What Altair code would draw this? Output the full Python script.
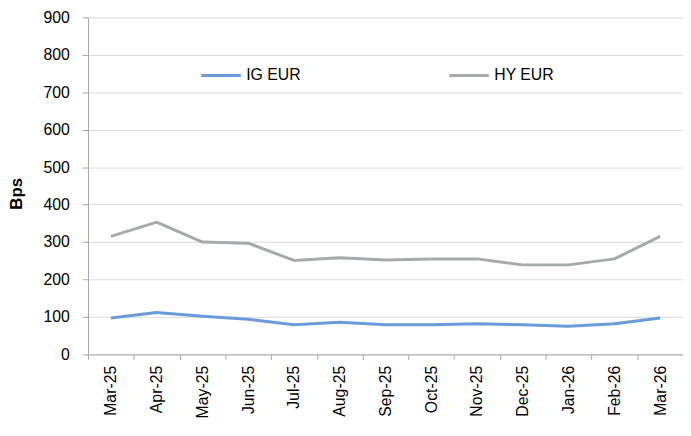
import altair as alt
import pandas as pd

months = ["Mar-25", "Apr-25", "May-25", "Jun-25", "Jul-25", "Aug-25", "Sep-25",
          "Oct-25", "Nov-25", "Dec-25", "Jan-26", "Feb-26", "Mar-26"]
ig_eur = [97, 112, 102, 94, 79, 86, 79, 79, 82, 79, 75, 82, 97]
hy_eur = [315, 353, 300, 297, 251, 258, 252, 255, 255, 239, 239, 255, 315]
series = ["IG EUR", "HY EUR"]
colors = ["#6a9bd8", "#a5a9a9"]

rows = []
for m, a, b in zip(months, ig_eur, hy_eur):
    rows.append({"month": m, "series": "IG EUR", "value": a})
    rows.append({"month": m, "series": "HY EUR", "value": b})
df = pd.DataFrame(rows)

FONT = "Liberation Sans"

chart = alt.Chart(df).mark_line(strokeWidth=3, strokeJoin="round").encode(
    x=alt.X("month:N", sort=months, title=None,
            scale=alt.Scale(paddingInner=0, paddingOuter=0),
            axis=alt.Axis(labelAngle=-90, labelFontSize=16, labelFont=FONT,
                          labelColor="#000000", tickBand="extent", tickSize=5,
                          tickColor="#a6a6a6", domainColor="#a6a6a6",
                          labelPadding=6, grid=False, labelBaseline="middle",
                          labelAlign="right")),
    y=alt.Y("value:Q", title="Bps",
            scale=alt.Scale(domain=[0, 900], nice=False),
            axis=alt.Axis(values=list(range(0, 901, 100)), labelFontSize=16,
                          labelFont=FONT, labelColor="#000000", tickSize=6,
                          tickColor="#a6a6a6", domainColor="#a6a6a6",
                          gridColor="#d9d9d9", labelPadding=13,
                          titleFont=FONT, titleFontSize=17, titleFontWeight="bold",
                          titleColor="#000000", titleX=-63, titleY=178,
                          titleBaseline="bottom")),
    color=alt.Color("series:N", sort=series,
                    scale=alt.Scale(domain=series, range=colors),
                    legend=alt.Legend(title=None, orient="none", legendX=113,
                                      legendY=37, direction="horizontal",
                                      symbolType="stroke", symbolSize=1600,
                                      symbolStrokeWidth=3, labelFont=FONT,
                                      labelFontSize=16, labelColor="#000000",
                                      columnPadding=143, labelOffset=4,
                                      padding=0)),
).properties(
    width=602, height=341,
    padding={"left": 81, "top": 7, "right": 0, "bottom": 72},
    autosize=alt.AutoSizeParams(type="none"),
).configure_view(stroke=None).configure_axis(domainWidth=1)

chart.save("out.html", embed_options={"renderer": "svg", "actions": False})
